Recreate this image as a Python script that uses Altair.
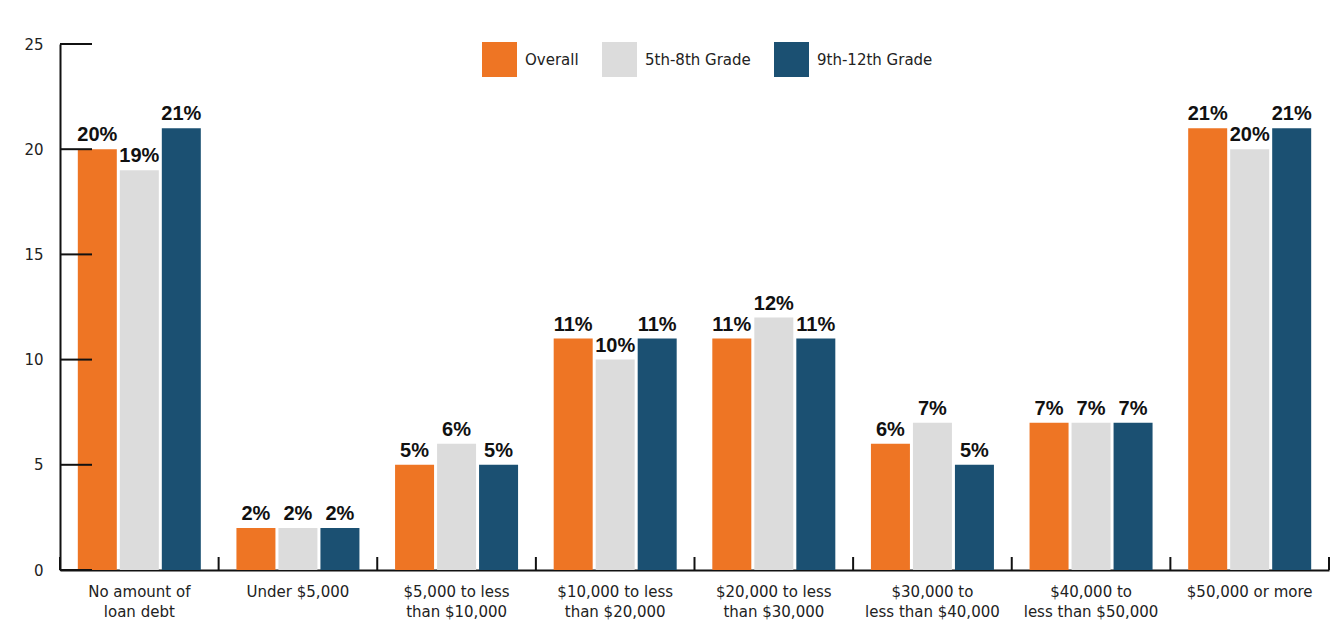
import altair as alt
import pandas as pd

categories = ["No amount of\nloan debt", "Under $5,000", "$5,000 to less\nthan $10,000",
              "$10,000 to less\nthan $20,000", "$20,000 to less\nthan $30,000",
              "$30,000 to\nless than $40,000", "$40,000 to\nless than $50,000", "$50,000 or more"]
series = ["Overall", "5th-8th Grade", "9th-12th Grade"]
overall = [20, 2, 5, 11, 11, 6, 7, 21]
grade_5_8 = [19, 2, 6, 10, 12, 7, 7, 20]
grade_9_12 = [21, 2, 5, 11, 11, 5, 7, 21]
y_ticks = [0, 5, 10, 15, 20, 25]
colors = ["#EE7524", "#DCDCDC", "#1B5072"]

rows = []
for s, vals in zip(series, [overall, grade_5_8, grade_9_12]):
    for c, v in zip(categories, vals):
        rows.append({"cat": c, "series": s, "value": v, "label": f"{v}%"})
df = pd.DataFrame(rows)
cat_df = pd.DataFrame({"cat": categories})
last_df = pd.DataFrame({"cat": [categories[-1]]})
tick_df = pd.DataFrame({"v": y_ticks})

W, H = 1269, 526

x_enc = alt.X("cat:N", sort=categories,
              scale=alt.Scale(paddingInner=0, paddingOuter=0),
              axis=alt.Axis(title=None, labelAngle=0, ticks=False, domain=True,
                            bandPosition=0.5,
                            domainColor="#111", domainWidth=2,
                            labelFont="DejaVu Sans", labelFontSize=15, labelColor="#222",
                            labelPadding=14, labelLineHeight=20,
                            labelExpr="split(datum.label, '\\n')"))
y_scale = alt.Scale(domain=[0, 25], nice=False)

bars = alt.Chart(df).mark_bar().encode(
    x=x_enc,
    xOffset=alt.XOffset("series:N", sort=series,
                        scale=alt.Scale(paddingInner=0.0714, paddingOuter=0.424)),
    y=alt.Y("value:Q", scale=y_scale,
            axis=alt.Axis(title=None, values=y_ticks, ticks=False, grid=False,
                          domainColor="#111", domainWidth=2,
                          labelFont="DejaVu Sans", labelFontSize=15, labelColor="#222",
                          labelPadding=17)),
    color=alt.Color("series:N", sort=series,
                    scale=alt.Scale(domain=series, range=colors),
                    legend=alt.Legend(title=None, orient="none", direction="horizontal",
                                      legendX=422, legendY=-2, padding=0,
                                      symbolType="square", symbolSize=1225,
                                      symbolStrokeWidth=0, labelOffset=8,
                                      columnPadding=23,
                                      labelFont="DejaVu Sans", labelFontSize=15,
                                      labelColor="#222")),
)

texts = alt.Chart(df).mark_text(baseline="bottom", dy=-4, font="Liberation Sans",
                                fontWeight="bold", fontSize=20, color="#111").encode(
    x=alt.X("cat:N", sort=categories),
    xOffset=alt.XOffset("series:N", sort=series),
    y=alt.Y("value:Q", scale=y_scale),
    text="label:N",
)

yticks = alt.Chart(tick_df).mark_rule(color="#111", strokeWidth=2).encode(
    y=alt.Y("v:Q", scale=y_scale),
    x=alt.value(0), x2=alt.value(32),
)

xticks = alt.Chart(cat_df).mark_rule(color="#111", strokeWidth=2).encode(
    x=alt.X("cat:N", sort=categories, bandPosition=0),
    y=alt.value(H - 13), y2=alt.value(H),
)
xtick_end = alt.Chart(last_df).mark_rule(color="#111", strokeWidth=2).encode(
    x=alt.X("cat:N", sort=categories, bandPosition=1),
    y=alt.value(H - 13), y2=alt.value(H),
)

chart = alt.layer(bars, xticks, xtick_end, texts, yticks).properties(
    width=W, height=H,
    autosize=alt.AutoSizeParams(type="none"),
    padding={"left": 52, "top": 36, "right": 4, "bottom": 56},
    background="white",
).configure_view(stroke=None)

chart.save("out.html", embed_options={"renderer": "svg", "actions": False})
